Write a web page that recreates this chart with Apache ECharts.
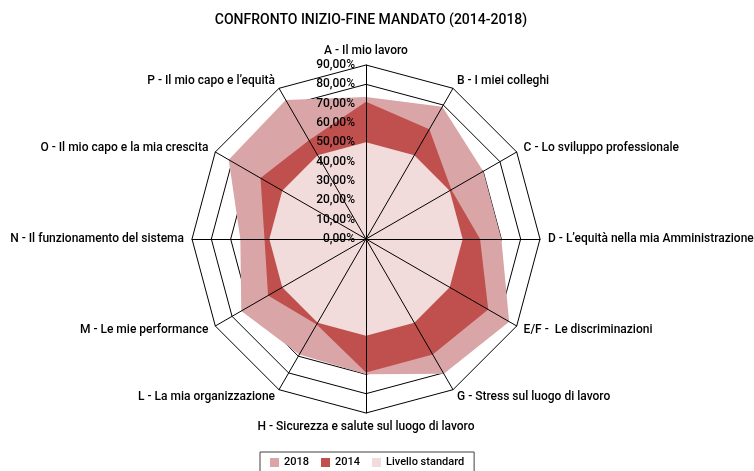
<!DOCTYPE html>
<html>
<head>
<meta charset="utf-8">
<script src="https://cdn.jsdelivr.net/npm/echarts@6/dist/echarts.min.js"></script>
<style>
  html, body { margin: 0; padding: 0; background: #fff; }
  #chart { width: 754px; height: 471px; }
</style>
</head>
<body>
<div id="chart"></div>
<script>
// dati (in %)
const categorie = ['A - Il mio lavoro', 'B - I miei colleghi', 'C - Lo sviluppo professionale',
  'D - L’equità nella mia Amministrazione', 'E/F -  Le discriminazioni', 'G - Stress sul luogo di lavoro',
  'H - Sicurezza e salute sul luogo di lavoro', 'L - La mia organizzazione', 'M - Le mie performance',
  'N - Il funzionamento del sistema', 'O - Il mio capo e la mia crescita', 'P - Il mio capo e l’equità']
const valori2018 = [73.5, 79, 70, 70, 85.5, 80.5, 70, 69, 74.5, 65, 82, 83]
const valori2014 = [71, 65.5, 51, 59, 73, 69, 69, 51, 58.5, 52.5, 63, 59]
const livelloStandard = [50, 50, 50, 50, 50, 50, 50, 50, 50, 50, 50, 50]
const scalaMin = 0
const scalaMax = 90
const scalaPasso = 10

// echarts dispone gli assi in senso antiorario: inverto l'ordine (A resta in alto)
const ordine = categorie.map((c, i) => (i === 0 ? 0 : categorie.length - i))
const riordina = arr => ordine.map(i => arr[i])

const font = 'Roboto'
const chart = echarts.init(document.getElementById('chart'))

const indicatori = (conEtichette) => riordina(categorie).map((nome, i) => {
  const ind = { name: nome, min: scalaMin, max: scalaMax }
  if (conEtichette && i === 0) {
    ind.axisLabel = { show: true }
  }
  return ind
})

const radarBase = {
  center: [366, 239],
  radius: 174,
  shape: 'polygon',
  splitNumber: (scalaMax - scalaMin) / scalaPasso,
  startAngle: 90,
}

const option = {
  animation: false,
  backgroundColor: '#fff',
  title: {
    text: 'CONFRONTO INIZIO-FINE MANDATO (2014-2018)',
    left: 366,
    textAlign: 'center',
    top: 8,
    textStyle: {
      fontFamily: font,
      fontSize: 14,
      fontWeight: 500,
      color: '#000',
    },
  },
  legend: {
    data: ['2018', '2014', 'Livello standard'],
    top: 452,
    left: 260,
    icon: 'rect',
    itemWidth: 9,
    itemHeight: 9,
    itemGap: 12,
    padding: [5, 10],
    borderColor: '#404040',
    borderWidth: 1,
    textStyle: {
      fontFamily: font,
      fontSize: 11,
      fontWeight: 500,
      color: '#000',
    },
  },
  radar: [
    // griglia e nomi (sotto le aree)
    Object.assign({}, radarBase, {
      z: 1,
      indicator: indicatori(false),
      axisName: {
        show: true,
        color: '#000',
        fontFamily: font,
        fontSize: 12,
        fontWeight: 500,
      },
      nameGap: 8,
      splitLine: { lineStyle: { color: '#000', width: 1 } },
      splitArea: { show: false },
      axisLine: { show: false },
      axisTick: { show: false },
      axisLabel: { show: false },
    }),
    // raggi ed etichette della scala (sopra le aree)
    Object.assign({}, radarBase, {
      z: 5,
      indicator: indicatori(true),
      axisName: { show: false },
      splitLine: { show: false },
      splitArea: { show: false },
      axisLine: { show: true, lineStyle: { color: '#000', width: 1 } },
      axisTick: { show: false },
      axisLabel: {
        show: false,
        color: '#000',
        fontFamily: font,
        fontSize: 12,
        fontWeight: 500,
        margin: 11,
        formatter: v => v.toFixed(2).replace('.', ',') + '%',
      },
    }),
  ],
  series: [{
    type: 'radar',
    radarIndex: 0,
    z: 2,
    symbol: 'none',
    lineStyle: { width: 0 },
    data: [
      { name: '2018', value: riordina(valori2018), itemStyle: { color: '#D9A5A6' }, areaStyle: { color: '#D9A5A6', opacity: 1 } },
      { name: '2014', value: riordina(valori2014), itemStyle: { color: '#C0504D' }, areaStyle: { color: '#C0504D', opacity: 1 } },
      { name: 'Livello standard', value: riordina(livelloStandard), itemStyle: { color: '#F2DCDB' }, areaStyle: { color: '#F2DCDB', opacity: 1 } },
    ],
  }],
}
chart.setOption(option)
</script>
</body>
</html>
